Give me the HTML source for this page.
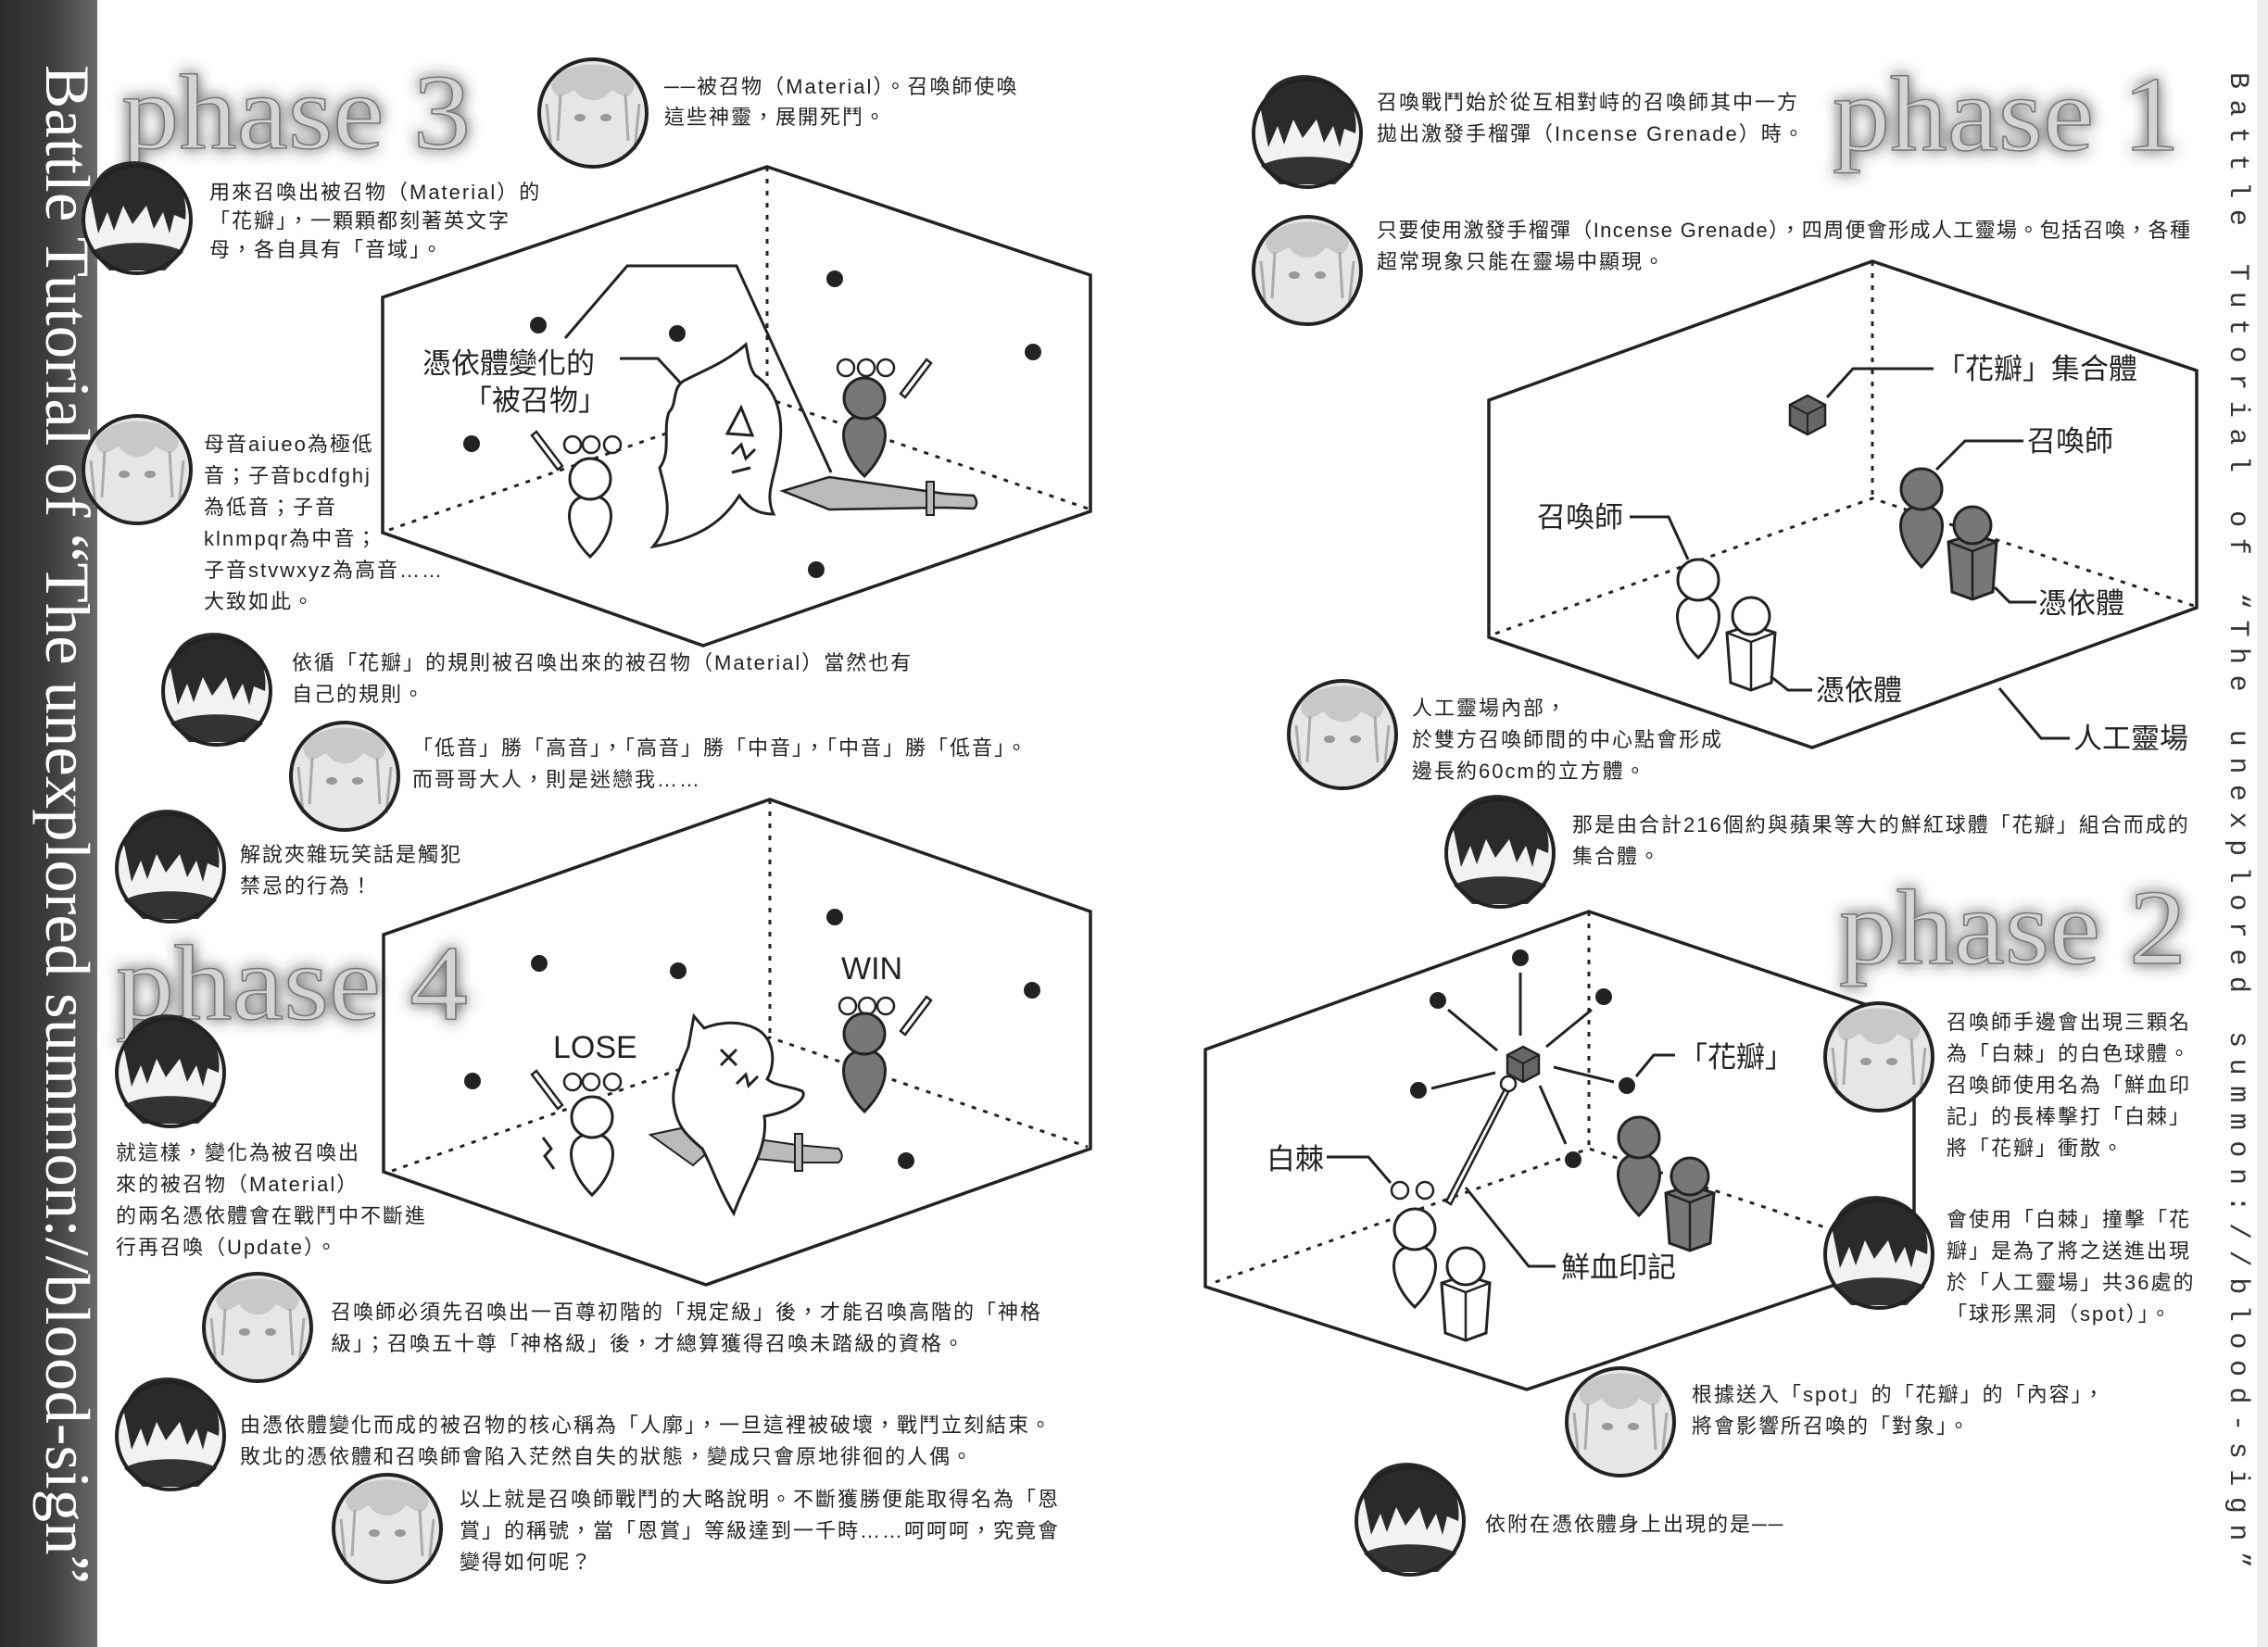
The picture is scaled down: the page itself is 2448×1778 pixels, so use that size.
<!DOCTYPE html>
<html><head><meta charset="utf-8">
<style>
html,body{margin:0;padding:0;background:#fff;}
svg{display:block;}
.t{font-family:"Liberation Sans","Noto Sans CJK TC",sans-serif;font-size:22px;fill:#222;letter-spacing:2px;}
.lb{font-family:"Liberation Sans","Noto Sans CJK TC",sans-serif;font-size:31px;fill:#222;}
.ph{font-family:"Liberation Serif",serif;font-size:116px;fill:#d4d4d4;stroke:#777;stroke-width:1.5;}
.hx{fill:none;stroke:#222;stroke-width:3.5;stroke-linejoin:miter;}
.ds{fill:none;stroke:#222;stroke-width:3;stroke-dasharray:5 8;}
.ln{fill:none;stroke:#222;stroke-width:3;}
</style></head>
<body>
<svg width="2448" height="1778" viewBox="0 0 2448 1778" xmlns="http://www.w3.org/2000/svg">
<defs>
<linearGradient id="strip" x1="0" y1="0" x2="1" y2="0">
<stop offset="0" stop-color="#2c2c2c"/><stop offset="0.5" stop-color="#3c3c3c"/><stop offset="1" stop-color="#6a6a6a"/>
</linearGradient>
<filter id="glow" x="-20%" y="-40%" width="140%" height="180%">
<feGaussianBlur in="SourceAlpha" stdDeviation="8" result="b"/>
<feFlood flood-color="#333" flood-opacity="0.9"/>
<feComposite in2="b" operator="in" result="s"/>
<feMerge><feMergeNode in="s"/><feMergeNode in="SourceGraphic"/></feMerge>
</filter>
<g id="sumW"><path d="M0,18 C31,18 29,56 0,84 C-29,56 -31,18 0,18 Z" fill="#fff" stroke="#222" stroke-width="3"/><circle r="22" fill="#fff" stroke="#222" stroke-width="3"/></g>
<g id="sumD"><path d="M0,18 C31,18 29,56 0,84 C-29,56 -31,18 0,18 Z" fill="#777" stroke="#222" stroke-width="3"/><circle r="22" fill="#777" stroke="#222" stroke-width="3"/></g>
<g id="posW"><path d="M-26,18 L0,10 L26,18 L22,72 L0,80 L-22,72 Z" fill="#fff" stroke="#222" stroke-width="3"/><path d="M-26,18 L0,28 L26,18 M0,28 L0,80" fill="none" stroke="#222" stroke-width="2.5"/><circle r="20" fill="#fff" stroke="#222" stroke-width="3"/></g>
<g id="posD"><path d="M-26,18 L0,10 L26,18 L22,72 L0,80 L-22,72 Z" fill="#777" stroke="#222" stroke-width="3"/><path d="M-26,18 L0,28 L26,18 M0,28 L0,80" fill="none" stroke="#222" stroke-width="2.5"/><circle r="20" fill="#777" stroke="#222" stroke-width="3"/></g>
<g id="boy"><circle r="58" fill="#f2f2f2"/><path d="M-50,-25 C-45,-60 -10,-68 15,-60 C45,-50 55,-25 52,0 L40,-5 L35,15 L28,-8 L18,10 L10,-15 L-5,5 L-15,-15 L-25,12 L-32,-8 L-42,15 Z" fill="#2a2a2a"/><path d="M-50,35 C-30,22 30,22 50,35 L30,55 L-30,55 Z" fill="#333"/><circle r="58" fill="none" stroke="#222" stroke-width="4"/></g>
<g id="girl"><circle r="58" fill="#e6e6e6"/><path d="M-45,-30 C-35,-60 35,-60 45,-30 C40,-10 30,-20 20,-25 C10,-10 -10,-10 -20,-25 C-30,-20 -40,-10 -45,-30 Z" fill="#c8c8c8"/><path d="M-50,-10 L-45,40 M50,-10 L45,40 M-35,-20 L-38,30 M35,-20 L38,30" stroke="#aaa" stroke-width="3"/><ellipse cx="-14" cy="5" rx="6" ry="4" fill="#999"/><ellipse cx="14" cy="5" rx="6" ry="4" fill="#999"/><circle r="58" fill="none" stroke="#222" stroke-width="4"/></g>
</defs>

<rect x="0" y="0" width="105" height="1778" fill="url(#strip)"/>
<text transform="translate(50,70) rotate(90)" font-family="Liberation Serif,serif" font-size="68" fill="#fff" textLength="1640" lengthAdjust="spacingAndGlyphs">Battle Tutorial of “The unexplored summon://blood-sign”</text>
<rect x="2436" y="0" width="12" height="1778" fill="#eee"/>
<text transform="translate(2408,78) rotate(90)" font-family="Liberation Mono,monospace" font-size="30" fill="#333" textLength="1615" lengthAdjust="spacing">Battle Tutorial of “The unexplored summon://blood-sign”</text>

<g filter="url(#glow)">
<text class="ph" x="131" y="160" textLength="377" lengthAdjust="spacingAndGlyphs">phase 3</text>
<text class="ph" x="1978" y="162" textLength="375" lengthAdjust="spacingAndGlyphs">phase 1</text>
<text class="ph" x="1985" y="1040" textLength="375" lengthAdjust="spacingAndGlyphs">phase 2</text>
<text class="ph" x="125" y="1100" textLength="380" lengthAdjust="spacingAndGlyphs">phase 4</text>
</g>

<!-- PHASE 3 -->
<polygon class="hx" points="828,180 1177,297 1177,552 759,697 413,575 413,321"/>
<path class="ds" d="M828,180 L828,430 M420,572 L828,430 L1177,550"/>
<g fill="#222"><circle cx="581" cy="351" r="9"/><circle cx="731" cy="360" r="9"/><circle cx="901" cy="301" r="9"/><circle cx="1115" cy="380" r="9"/><circle cx="509" cy="479" r="9"/><circle cx="881" cy="615" r="9"/></g>
<path class="ln" d="M610,365 L677,287 L795,287 L897,510"/>
<path class="ln" d="M669,387 L710,387 L736,415"/>
<text class="lb" x="456" y="403">憑依體變化的</text>
<text class="lb" x="500" y="443">「被召物」</text>
<path d="M845,530 L895,515 L1020,533 L1051,535 C1055,540 1055,546 1051,549 L1020,548 L895,550 Z" fill="#bbb" stroke="#222" stroke-width="2.5"/>
<rect x="1000" y="520" width="8" height="36" fill="#bbb" stroke="#222" stroke-width="2"/>
<path d="M705,590 C730,560 718,530 712,505 C725,488 715,465 722,445 C732,435 724,418 740,410 C760,400 785,390 805,372 C808,385 808,395 815,405 C838,420 848,450 840,490 C836,515 825,535 835,555 C815,555 805,545 798,535 C782,560 760,580 705,590 Z" fill="#fff" stroke="#222" stroke-width="3"/>
<path class="ln" d="M800,440 L812,470 L785,468 Z M790,490 L800,480 L805,495 L815,485 M790,510 L810,505" stroke-width="2.5"/>
<g fill="none" stroke="#222" stroke-width="2.5"><circle cx="618" cy="480" r="9"/><circle cx="638" cy="480" r="9"/><circle cx="661" cy="480" r="9"/><circle cx="913" cy="397" r="9"/><circle cx="935" cy="397" r="9"/><circle cx="956" cy="397" r="9"/></g>
<path d="M574,470 L579,466 L607,503 L602,507 Z" fill="#fff" stroke="#222" stroke-width="2.5"/>
<path d="M972,425 L1000,388 L1005,392 L977,429 Z" fill="#fff" stroke="#222" stroke-width="2.5"/>
<use href="#sumW" x="637" y="517"/>
<use href="#sumD" x="933" y="430"/>

<!-- PHASE 4 -->
<polygon class="hx" points="831,863 1177,984 1177,1240 762,1387 414,1265 414,1009"/>
<path class="ds" d="M831,863 L831,1120 M423,1264 L831,1120 L1174,1238"/>
<g fill="#222"><circle cx="582" cy="1040" r="9"/><circle cx="732" cy="1048" r="9"/><circle cx="901" cy="990" r="9"/><circle cx="1114" cy="1069" r="9"/><circle cx="510" cy="1167" r="9"/><circle cx="978" cy="1253" r="9"/></g>
<text x="908" y="1057" font-family="Liberation Sans,sans-serif" font-size="34" fill="#222">WIN</text>
<text x="597" y="1142" font-family="Liberation Sans,sans-serif" font-size="34" fill="#222">LOSE</text>
<g fill="none" stroke="#222" stroke-width="2.5"><circle cx="618" cy="1168" r="9"/><circle cx="638" cy="1168" r="9"/><circle cx="661" cy="1168" r="9"/><circle cx="915" cy="1086" r="9"/><circle cx="936" cy="1086" r="9"/><circle cx="956" cy="1086" r="9"/></g>
<path d="M574,1160 L579,1156 L607,1193 L602,1197 Z" fill="#fff" stroke="#222" stroke-width="2.5"/>
<path d="M972,1113 L1000,1076 L1005,1080 L977,1117 Z" fill="#fff" stroke="#222" stroke-width="2.5"/>
<path d="M702,1225 L735,1218 L768,1240 L748,1258 Z" fill="#bbb" stroke="#222" stroke-width="2"/>
<path d="M805,1228 L860,1236 L905,1240 C910,1245 910,1251 905,1255 L860,1255 L805,1250 Z" fill="#bbb" stroke="#222" stroke-width="2"/>
<rect x="858" y="1224" width="8" height="40" fill="#bbb" stroke="#222" stroke-width="2"/>
<path d="M792,1310 C805,1272 830,1240 825,1205 C855,1200 872,1185 866,1178 C852,1172 838,1173 828,1165 C838,1148 836,1120 815,1110 C795,1100 772,1105 760,1110 L749,1097 L743,1130 C735,1150 725,1170 727,1190 C730,1215 740,1225 758,1240 C768,1258 775,1282 792,1310 Z" fill="#fff" stroke="#222" stroke-width="3"/>
<path class="ln" d="M778,1133 L795,1150 M795,1133 L778,1150 M795,1170 L805,1160 L808,1172 L818,1162" stroke-width="2.5"/>
<path class="ln" d="M586,1228 L595,1240 L588,1248 L598,1262" stroke-width="2"/>
<use href="#sumW" x="639" y="1206"/>
<use href="#sumD" x="933" y="1116"/>

<!-- PHASE 1 -->
<polygon class="hx" points="2021,282 2371,400 2371,656 1956,807 1607,688 1607,432"/>
<path class="ds" d="M2021,282 L2021,538 M1614,684 L2021,538 L2368,654"/>
<path class="ln" d="M1972,429 L2000,398 L2087,398"/>
<g transform="translate(1951,448)"><polygon points="0,-21 19,-11 19,11 0,21 -19,11 -19,-11" fill="#666" stroke="#222" stroke-width="2.5"/><path d="M-19,-11 L0,-1 L19,-11 M0,-1 L0,21" fill="none" stroke="#222" stroke-width="2"/></g>
<text class="lb" x="2090" y="409">「花瓣」集合體</text>
<path class="ln" d="M2090,507 L2121,476 L2184,476"/>
<text class="lb" x="2188" y="487">召喚師</text>
<path class="ln" d="M1759,558 L1801,558 L1822,604"/>
<text class="lb" x="1659" y="569">召喚師</text>
<use href="#sumD" x="2074" y="528"/>
<use href="#posD" x="2129" y="567"/>
<path class="ln" d="M2153,634 L2169,650 L2198,650"/>
<text class="lb" x="2200" y="662">憑依體</text>
<use href="#sumW" x="1833" y="626"/>
<use href="#posW" x="1890" y="665"/>
<path class="ln" d="M1911,730 L1930,745 L1956,745"/>
<text class="lb" x="1960" y="756">憑依體</text>
<path class="ln" d="M2158,743 L2203,797 L2234,797"/>
<text class="lb" x="2238" y="808">人工靈場</text>

<!-- PHASE 2 -->
<polygon class="hx" points="1715,984 2066,1102 2066,1358 1648,1500 1301,1389 1301,1133"/>
<path class="ds" d="M1715,984 L1715,1240 M1312,1384 L1715,1240 L2060,1355"/>
<g class="ln"><path d="M1641,1050 L1641,1118 M1563,1090 L1616,1134 M1718,1090 L1669,1130 M1545,1175 L1614,1158 M1742,1168 L1677,1152 M1690,1235 L1662,1172"/></g>
<g fill="#222"><circle cx="1641" cy="1034" r="9"/><circle cx="1552" cy="1080" r="9"/><circle cx="1731" cy="1076" r="9"/><circle cx="1531" cy="1177" r="9"/><circle cx="1756" cy="1172" r="9"/><circle cx="1698" cy="1252" r="9"/></g>
<g transform="translate(1644,1149)"><polygon points="0,-19 17,-10 17,10 0,19 -17,10 -17,-10" fill="#666" stroke="#222" stroke-width="2.5"/><path d="M-17,-10 L0,-1 L17,-10 M0,-1 L0,19" fill="none" stroke="#222" stroke-width="2"/></g>
<circle cx="1628" cy="1170" r="8" fill="#fff" stroke="#222" stroke-width="2.5"/>
<path d="M1624,1176 L1628,1179 L1566,1300 L1561,1297 Z" fill="#fff" stroke="#222" stroke-width="2.5"/>
<path class="ln" d="M1766,1162 L1785,1139 L1808,1139"/>
<text class="lb" x="1812" y="1152">「花瓣」</text>
<path class="ln" d="M1432,1249 L1477,1249 L1501,1277"/>
<text class="lb" x="1367" y="1262">白棘</text>
<g fill="none" stroke="#222" stroke-width="2.5"><circle cx="1511" cy="1285" r="9"/><circle cx="1538" cy="1285" r="9"/></g>
<path class="ln" d="M1582,1282 L1650,1367 L1679,1367"/>
<text class="lb" x="1685" y="1379">鮮血印記</text>
<use href="#sumD" x="1769" y="1228"/>
<use href="#posD" x="1824" y="1270"/>
<use href="#sumW" x="1527" y="1327"/>
<use href="#posW" x="1582" y="1367"/>

<!-- avatars -->
<use href="#girl" x="640" y="122"/>
<use href="#boy" x="148" y="237"/>
<use href="#girl" x="148" y="507"/>
<use href="#boy" x="234" y="746"/>
<use href="#girl" x="372" y="838"/>
<use href="#boy" x="184" y="937"/>
<use href="#boy" x="184" y="1158"/>
<use href="#girl" x="278" y="1433"/>
<use href="#boy" x="184" y="1550"/>
<use href="#girl" x="418" y="1650"/>
<use href="#boy" x="1411" y="144"/>
<use href="#girl" x="1411" y="292"/>
<use href="#girl" x="1449" y="793"/>
<use href="#boy" x="1619" y="921"/>
<use href="#girl" x="2028" y="1141"/>
<use href="#boy" x="2028" y="1354"/>
<use href="#girl" x="1749" y="1535"/>
<use href="#boy" x="1522" y="1642"/>

<g class="t">
<text x="717" y="101">──被召物（Material）。召喚師使喚</text>
<text x="717" y="134">這些神靈，展開死鬥。</text>
<text x="226" y="215">用來召喚出被召物（Material）的</text>
<text x="226" y="246">「花瓣」，一顆顆都刻著英文字</text>
<text x="226" y="277">母，各自具有「音域」。</text>
<text x="220" y="487">母音aiueo為極低</text>
<text x="220" y="521">音；子音bcdfghj</text>
<text x="220" y="555">為低音；子音</text>
<text x="220" y="589">klnmpqr為中音；</text>
<text x="220" y="623">子音stvwxyz為高音……</text>
<text x="220" y="657">大致如此。</text>
<text x="315" y="723">依循「花瓣」的規則被召喚出來的被召物（Material）當然也有</text>
<text x="315" y="757">自己的規則。</text>
<text x="445" y="815">「低音」勝「高音」，「高音」勝「中音」，「中音」勝「低音」。</text>
<text x="445" y="849">而哥哥大人，則是迷戀我……</text>
<text x="259" y="930">解說夾雜玩笑話是觸犯</text>
<text x="259" y="964">禁忌的行為！</text>
<text x="125" y="1252">就這樣，變化為被召喚出</text>
<text x="125" y="1286">來的被召物（Material）</text>
<text x="125" y="1320">的兩名憑依體會在戰鬥中不斷進</text>
<text x="125" y="1354">行再召喚（Update）。</text>
<text x="357" y="1424">召喚師必須先召喚出一百尊初階的「規定級」後，才能召喚高階的「神格</text>
<text x="357" y="1458">級」；召喚五十尊「神格級」後，才總算獲得召喚未踏級的資格。</text>
<text x="259" y="1546">由憑依體變化而成的被召物的核心稱為「人廓」，一旦這裡被破壞，戰鬥立刻結束。</text>
<text x="259" y="1580">敗北的憑依體和召喚師會陷入茫然自失的狀態，變成只會原地徘徊的人偶。</text>
<text x="496" y="1626">以上就是召喚師戰鬥的大略說明。不斷獲勝便能取得名為「恩</text>
<text x="496" y="1660">賞」的稱號，當「恩賞」等級達到一千時……呵呵呵，究竟會</text>
<text x="496" y="1694">變得如何呢？</text>
<text x="1486" y="118">召喚戰鬥始於從互相對峙的召喚師其中一方</text>
<text x="1486" y="152">拋出激發手榴彈（Incense Grenade）時。</text>
<text x="1486" y="256" textLength="880" lengthAdjust="spacing">只要使用激發手榴彈（Incense Grenade），四周便會形成人工靈場。包括召喚，各種</text>
<text x="1486" y="290">超常現象只能在靈場中顯現。</text>
<text x="1524" y="772">人工靈場內部，</text>
<text x="1524" y="806">於雙方召喚師間的中心點會形成</text>
<text x="1524" y="840">邊長約60cm的立方體。</text>
<text x="1697" y="898">那是由合計216個約與蘋果等大的鮮紅球體「花瓣」組合而成的</text>
<text x="1697" y="932">集合體。</text>
<text x="2101" y="1111">召喚師手邊會出現三顆名</text>
<text x="2101" y="1145">為「白棘」的白色球體。</text>
<text x="2101" y="1179">召喚師使用名為「鮮血印</text>
<text x="2101" y="1213">記」的長棒擊打「白棘」</text>
<text x="2101" y="1247">將「花瓣」衝散。</text>
<text x="2101" y="1324">會使用「白棘」撞擊「花</text>
<text x="2101" y="1358">瓣」是為了將之送進出現</text>
<text x="2101" y="1392">於「人工靈場」共36處的</text>
<text x="2101" y="1426">「球形黑洞（spot）」。</text>
<text x="1826" y="1513">根據送入「spot」的「花瓣」的「內容」，</text>
<text x="1826" y="1547">將會影響所召喚的「對象」。</text>
<text x="1603" y="1653">依附在憑依體身上出現的是──</text>
</g>
</svg>
</body></html>
